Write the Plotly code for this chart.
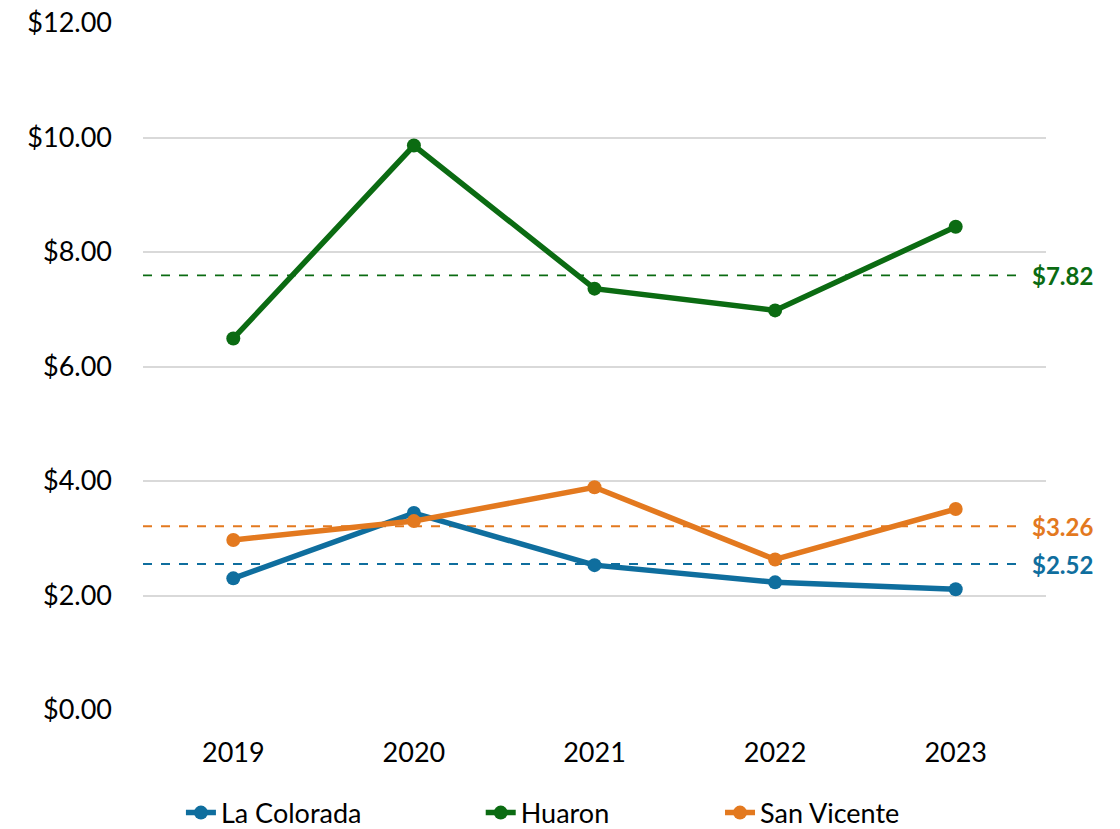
import plotly.graph_objects as go

years = ["2019", "2020", "2021", "2022", "2023"]
la_colorada = [2.30, 3.44, 2.53, 2.23, 2.11]
huaron = [6.49, 9.86, 7.36, 6.98, 8.44]
san_vicente = [2.97, 3.30, 3.89, 2.63, 3.51]

series_names = ["La Colorada", "Huaron", "San Vicente"]
series_colors = ["#0F6E9E", "#0B6B12", "#E3791F"]
avg_line_values = [2.55, 7.59, 3.21]
avg_labels = ["$2.52", "$7.82", "$3.26"]

FONT = "Lato"

legend_ids = ["legend", "legend2", "legend3"]
legend_x = [0.042, 0.374, 0.639]

fig = go.Figure()
for name, vals, col, lid in zip(series_names, [la_colorada, huaron, san_vicente], series_colors, legend_ids):
    fig.add_trace(go.Scatter(
        x=years, y=vals, name=name, mode="lines+markers",
        line=dict(color=col, width=5.5),
        marker=dict(color=col, size=14),
        legend=lid,
    ))

for val, lab, col in zip(avg_line_values, avg_labels, series_colors):
    fig.add_shape(type="line", xref="paper", yref="y", x0=0, x1=0.968, y0=val, y1=val,
                  line=dict(color=col, width=1.8, dash="dash"), layer="below")
    fig.add_annotation(xref="paper", yref="y", x=0.982, y=val, text="<b>%s</b>" % lab,
                       showarrow=False, xanchor="left", yanchor="middle",
                       font=dict(family=FONT, size=24, color=col))

leg_common = dict(orientation="h", y=-0.150, yanchor="middle", xanchor="left",
                  font=dict(family=FONT, size=27, color="black"), bgcolor="rgba(0,0,0,0)")
fig.update_layout(
    width=1120, height=829,
    margin=dict(l=143, r=74, t=23, b=119, autoexpand=False),
    paper_bgcolor="white", plot_bgcolor="white",
    font=dict(family=FONT, size=27, color="black"),
    showlegend=True,
    legend=dict(x=legend_x[0], **leg_common),
    legend2=dict(x=legend_x[1], **leg_common),
    legend3=dict(x=legend_x[2], **leg_common),
)
fig.update_yaxes(range=[0, 12], dtick=2, tickformat="$.2f", showgrid=True,
                 gridcolor="#D9D9D9", gridwidth=1.5, zeroline=False, showline=False,
                 ticks="", ticklabelstandoff=30, tickfont=dict(size=27), automargin=False)
fig.update_xaxes(type="category", range=[-0.5, 4.5], showgrid=False, zeroline=False,
                 showline=False, ticks="", ticklabelstandoff=24, tickfont=dict(size=27),
                 automargin=False)

fig.write_html("out.html", config={"displayModeBar": False},
               post_script="document.body.style.margin='0';")
